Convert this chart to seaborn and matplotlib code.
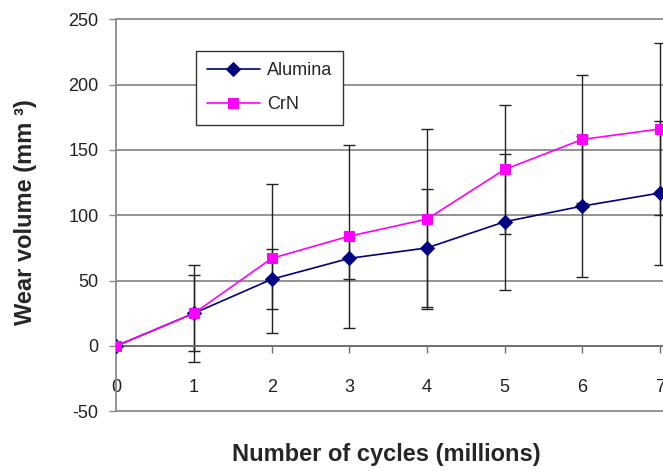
"""
Wear volume against number of cycles, alumina vs CrN, with error bars.
"""

import numpy as np
import pandas as pd
import matplotlib
matplotlib.use("Agg")
import matplotlib.pyplot as plt
import seaborn as sns

# data
cycles = [0, 1, 2, 3, 4, 5, 6, 7]
alumina = [0, 25, 51, 67, 75, 95, 107, 117]
alumina_err = [0, 37, 23, 16, 45, 52, 54, 55]
crn = [0, 25, 67, 84, 97, 135, 158, 166]
crn_err = [0, 29, 57, 70, 69, 49, 49, 66]
y_ticks = [-50, 0, 50, 100, 150, 200, 250]

# settings
NAVY = "#000080"
MAGENTA = "#FF00FF"
GRID = "#8a8a8a"


def main():
    sns.set_style("white")
    plt.rcParams["font.family"] = ["Liberation Sans", "DejaVu Sans"]
    plt.rcParams["axes.unicode_minus"] = False

    df = pd.concat([
        pd.DataFrame({"cycles": cycles, "wear": alumina, "err": alumina_err, "material": "Alumina"}),
        pd.DataFrame({"cycles": cycles, "wear": crn, "err": crn_err, "material": "CrN"}),
    ])

    fig = plt.figure(figsize=(6.63, 4.71), dpi=100)
    ax = fig.add_axes([0.1757, 0.1253, 0.8243, 0.8355])

    # error bars under the lines
    for name, sub in df.groupby("material"):
        ax.errorbar(sub["cycles"], sub["wear"], yerr=sub["err"], fmt="none",
                    ecolor="#222222", elinewidth=1.0, capsize=4.3, capthick=1.0,
                    zorder=2)

    # lines with markers
    sns.lineplot(data=df[df["material"] == "Alumina"], x="cycles", y="wear",
                 color=NAVY, marker="D", markersize=7, markeredgecolor=NAVY,
                 linewidth=1.2, label="Alumina", ax=ax, zorder=3)
    sns.lineplot(data=df[df["material"] == "CrN"], x="cycles", y="wear",
                 color=MAGENTA, marker="s", markersize=7, markeredgecolor=MAGENTA,
                 linewidth=1.2, label="CrN", ax=ax, zorder=4)

    # axes
    ax.set_xlim(0, 7.04)
    ax.set_ylim(-50.6, 250.6)
    ax.set_yticks(y_ticks)
    ax.set_xticks(cycles)
    ax.yaxis.grid(True, color=GRID, linewidth=1.3)
    ax.xaxis.grid(False)

    for side in ["top", "right"]:
        ax.spines[side].set_visible(False)
    ax.spines["left"].set_bounds(-50, 250)
    ax.spines["left"].set_color(GRID)
    ax.spines["left"].set_linewidth(1.3)
    ax.spines["bottom"].set_position(("data", 0))
    ax.spines["bottom"].set_color("#707070")
    ax.spines["bottom"].set_linewidth(1.3)

    ax.tick_params(axis="y", direction="out", length=5, width=1.0, color=GRID,
                   pad=8, labelsize=13, labelcolor="#222222", left=True)
    ax.tick_params(axis="x", direction="out", length=5, width=1.0, color="#707070",
                   pad=19, labelsize=13, labelcolor="#222222", bottom=True)

    # labels
    ax.set_xlabel("Number of cycles (millions)", fontsize=17, fontweight="bold",
                  va="center")
    ax.xaxis.set_label_coords(0.493, -0.107)
    ax.set_ylabel("Wear volume (mm ³)", fontsize=17, fontweight="bold",
                  va="center")
    ax.yaxis.set_label_coords(-0.167, 0.508)

    # legend
    leg = ax.legend(loc="upper left", bbox_to_anchor=(0.1455, 0.917),
                    borderaxespad=0, fontsize=13, frameon=True, fancybox=False,
                    handlelength=2.9, handletextpad=0.4, labelspacing=0.95,
                    borderpad=0.62)
    leg.get_frame().set_edgecolor("#333333")
    leg.get_frame().set_linewidth(1.0)
    leg.get_frame().set_alpha(1)

    fig.savefig("out.png", dpi=100)


if __name__ == "__main__":
    main()
